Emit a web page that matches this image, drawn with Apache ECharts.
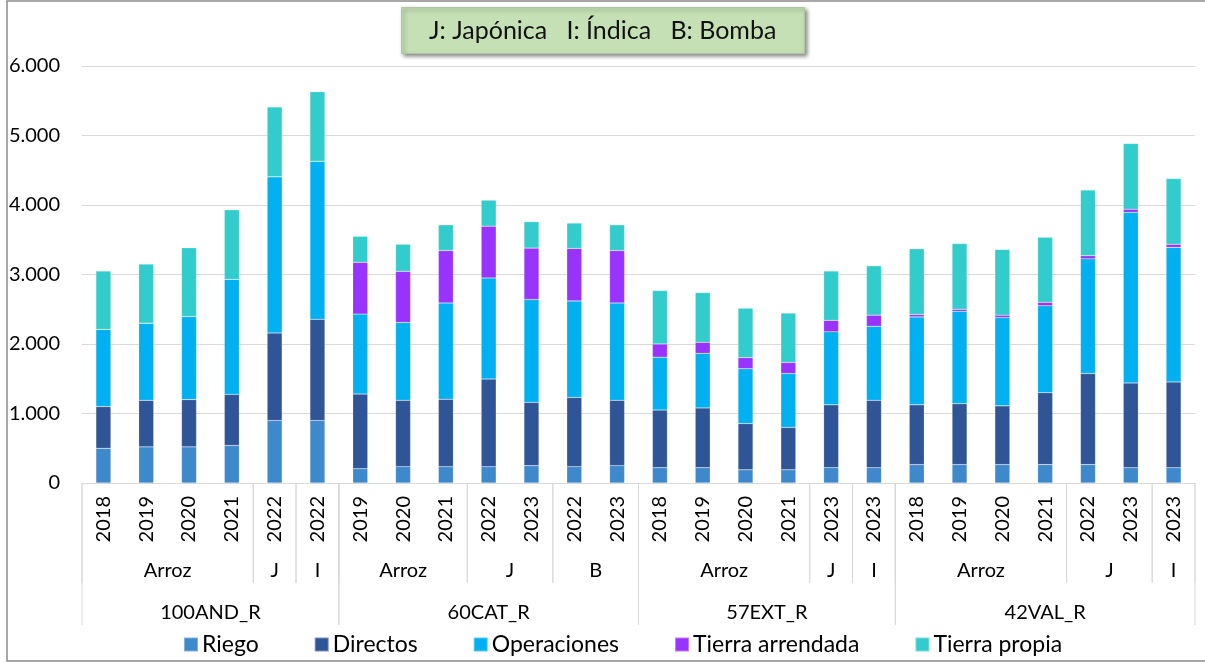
<!DOCTYPE html>
<html>
<head>
<meta charset="utf-8">
<script src="https://cdn.jsdelivr.net/npm/echarts@6/dist/echarts.min.js"></script>
<style>
html, body { margin: 0; padding: 0; background: #fff; }
#chart { width: 1205px; height: 663px; }
</style>
</head>
<body>
<div id="chart"></div>
<script>
// años (primer nivel del eje)
var years = ['2018', '2019', '2020', '2021', '2022', '2022',
             '2019', '2020', '2021', '2022', '2023', '2022', '2023',
             '2018', '2019', '2020', '2021', '2023', '2023',
             '2018', '2019', '2020', '2021', '2022', '2023', '2023'];
// segundo nivel: [desde, hasta, etiqueta]
var subGroups = [[0, 3, 'Arroz'], [4, 4, 'J'], [5, 5, 'I'],
                 [6, 8, 'Arroz'], [9, 10, 'J'], [11, 12, 'B'],
                 [13, 16, 'Arroz'], [17, 17, 'J'], [18, 18, 'I'],
                 [19, 22, 'Arroz'], [23, 24, 'J'], [25, 25, 'I']];
// tercer nivel
var groups = [[0, 5, '100AND_R'], [6, 12, '60CAT_R'], [13, 18, '57EXT_R'], [19, 25, '42VAL_R']];

var seriesNames = ['Riego', 'Directos', 'Operaciones', 'Tierra arrendada', 'Tierra propia'];
var riego = [500, 520, 520, 540, 900, 900,
             205, 235, 235, 235, 250, 235, 250,
             220, 220, 190, 190, 220, 220,
             265, 265, 265, 265, 265, 220, 220];
var directos = [600, 670, 680, 735, 1260, 1455,
                1075, 955, 970, 1260, 910, 995, 940,
                830, 860, 665, 610, 905, 970,
                860, 875, 845, 1035, 1310, 1220, 1235];
var operaciones = [1110, 1110, 1195, 1655, 2245, 2275,
                   1150, 1120, 1385, 1455, 1480, 1390, 1400,
                   760, 785, 790, 775, 1050, 1065,
                   1265, 1330, 1270, 1250, 1650, 2455, 1935];
var arrendada = [0, 0, 0, 0, 0, 0,
                 745, 735, 755, 745, 740, 755, 755,
                 190, 160, 160, 160, 165, 160,
                 35, 30, 35, 50, 45, 45, 45];
var propia = [840, 850, 990, 1000, 1005, 1000,
              375, 390, 370, 375, 380, 365, 370,
              770, 715, 710, 710, 710, 710,
              945, 945, 945, 935, 945, 945, 945];
var colors = ['#3e88cc', '#2f5597', '#00b0f0', '#9933ff', '#33cccc'];
var yTicks = [0, 1000, 2000, 3000, 4000, 5000, 6000];

var FONT = 'Lato';
var chart = echarts.init(document.getElementById('chart'));

function bar(name, data, i) {
	return {
		name: name,
		type: 'bar',
		stack: 'total',
		barWidth: 15,
		data: data,
		itemStyle: { color: colors[i], borderColor: 'rgba(255,255,255,0.35)', borderWidth: 0.5 }
	};
}

// etiquetas y separadores de los niveles 2 y 3, a partir de la escala del eje
function levelSeries(list, textOffset, lineLen) {
	return {
		type: 'custom',
		coordinateSystem: 'cartesian2d',
		clip: false,
		silent: true,
		z: 5,
		encode: { x: [0, 1] },
		data: list.map(function (g) { return [g[0], g[1]]; }),
		renderItem: function (params, api) {
			var half = api.size([1, 0])[0] / 2;
			var p0 = api.coord([api.value(0), 0]);
			var p1 = api.coord([api.value(1), 0]);
			var x0 = p0[0] - half, x1 = p1[0] + half, y0 = p0[1];
			return {
				type: 'group',
				children: [
					{ type: 'line', shape: { x1: x0, y1: y0, x2: x0, y2: y0 + lineLen },
					  style: { stroke: '#d9d9d9', lineWidth: 1 } },
					{ type: 'line', shape: { x1: x1, y1: y0, x2: x1, y2: y0 + lineLen },
					  style: { stroke: '#d9d9d9', lineWidth: 1 } },
					{ type: 'text', x: (x0 + x1) / 2, y: y0 + textOffset,
					  style: { text: list[params.dataIndex][2], fill: '#000', font: '20px ' + FONT,
					           align: 'center', verticalAlign: 'middle' } }
				]
			};
		}
	};
}

var option = {
	animation: false,
	textStyle: { fontFamily: FONT },
	title: {
		text: 'J: Japónica   I: Índica   B: Bomba',
		left: 401,
		top: 7,
		padding: [11, 28],
		backgroundColor: '#c5e0b4',
		borderColor: '#b0c8a0',
		borderWidth: 1,
		shadowColor: 'rgba(0,0,0,0.45)',
		shadowBlur: 4,
		shadowOffsetX: 2,
		shadowOffsetY: 2,
		textStyle: { fontFamily: FONT, fontSize: 25, fontWeight: 'normal', color: '#111' }
	},
	legend: {
		data: seriesNames,
		left: 178,
		top: 628,
		icon: 'rect',
		itemWidth: 14,
		itemHeight: 14,
		itemGap: 55,
		textStyle: { fontFamily: FONT, fontSize: 23, color: '#000', padding: [0, 0, 0, -1] }
	},
	grid: { left: 82, right: 10, top: 66, bottom: 180 },
	xAxis: {
		type: 'category',
		data: years,
		axisLine: { lineStyle: { color: '#d9d9d9' } },
		axisTick: { show: false },
		axisLabel: { rotate: 90, margin: 13, fontSize: 20, color: '#000', fontFamily: FONT, interval: 0 }
	},
	yAxis: {
		type: 'value',
		min: yTicks[0],
		max: yTicks[yTicks.length - 1],
		interval: 1000,
		axisLine: { show: false },
		axisTick: { show: false },
		splitLine: { lineStyle: { color: '#d9d9d9' } },
		axisLabel: {
			margin: 22, fontSize: 20, color: '#000', fontFamily: FONT,
			formatter: function (v) { return v === 0 ? '0' : (v / 1000) + '.000'; }
		}
	},
	graphic: [{
		type: 'rect', silent: true, z: -10,
		shape: { x: 7, y: 1, width: 1210, height: 660 },
		style: { fill: 'none', stroke: '#8c8c8c', lineWidth: 1.5 }
	}],
	series: [
		bar(seriesNames[0], riego, 0),
		bar(seriesNames[1], directos, 1),
		bar(seriesNames[2], operaciones, 2),
		bar(seriesNames[3], arrendada, 3),
		bar(seriesNames[4], propia, 4),
		levelSeries(subGroups, 88, 100),
		levelSeries(groups, 130, 142)
	]
};

chart.setOption(option);
</script>
</body>
</html>
